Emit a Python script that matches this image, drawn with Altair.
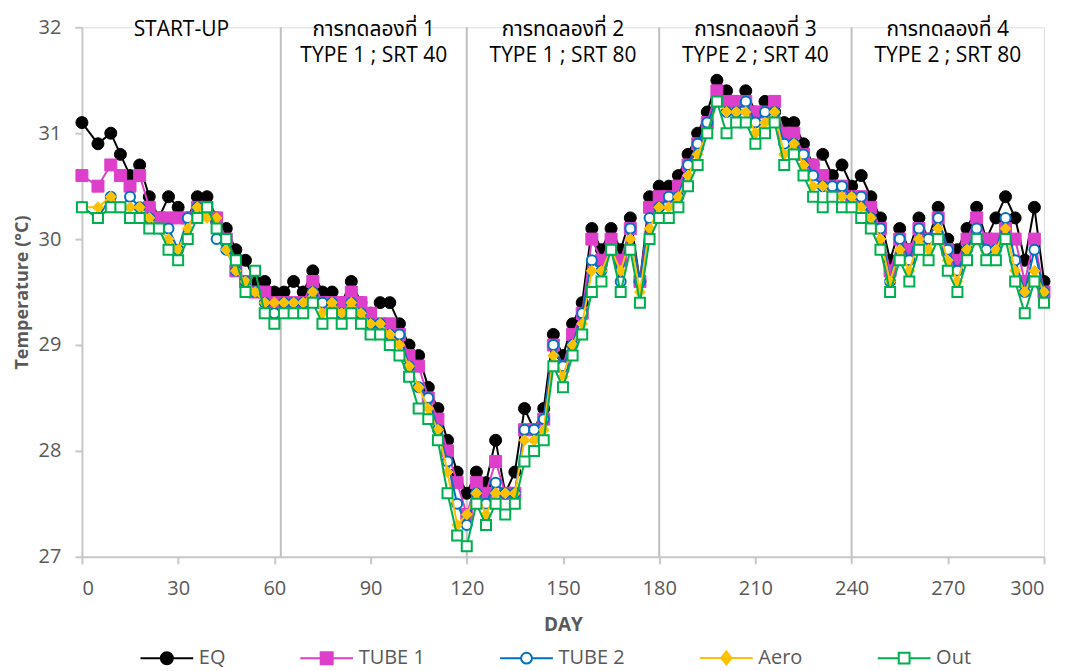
import altair as alt
import pandas as pd

days = [0, 5, 9, 12, 15, 18, 21, 24, 27, 30,
        33, 36, 39, 42, 45, 48, 51, 54, 57, 60,
        63, 66, 69, 72, 75, 78, 81, 84, 87, 90,
        93, 96, 99, 102, 105, 108, 111, 114, 117, 120,
        123, 126, 129, 132, 135, 138, 141, 144, 147, 150,
        153, 156, 159, 162, 165, 168, 171, 174, 177, 180,
        183, 186, 189, 192, 195, 198, 201, 204, 207, 210,
        213, 216, 219, 222, 225, 228, 231, 234, 237, 240,
        243, 246, 249, 252, 255, 258, 261, 264, 267, 270,
        273, 276, 279, 282, 285, 288, 291, 294, 297, 300]

eq = [31.1, 30.9, 31.0, 30.8, 30.6, 30.7, 30.4, 30.2, 30.4, 30.3,
      30.2, 30.4, 30.4, 30.2, 30.1, 29.9, 29.8, 29.6, 29.6, 29.5,
      29.5, 29.6, 29.5, 29.7, 29.5, 29.5, 29.4, 29.6, 29.4, 29.3,
      29.4, 29.4, 29.2, 29.0, 28.9, 28.6, 28.4, 28.1, 27.8, 27.6,
      27.8, 27.7, 28.1, 27.6, 27.8, 28.4, 28.2, 28.4, 29.1, 28.9,
      29.2, 29.4, 30.1, 29.9, 30.1, 29.9, 30.2, 29.6, 30.4, 30.5,
      30.5, 30.6, 30.8, 31.0, 31.2, 31.5, 31.4, 31.3, 31.4, 31.2,
      31.3, 31.2, 31.1, 31.1, 30.9, 30.7, 30.8, 30.6, 30.7, 30.5,
      30.6, 30.4, 30.2, 29.8, 30.1, 29.9, 30.2, 30.0, 30.3, 30.0,
      29.9, 30.1, 30.3, 30.0, 30.2, 30.4, 30.2, 29.8, 30.3, 29.6]

tube1 = [30.6, 30.5, 30.7, 30.6, 30.5, 30.6, 30.3, 30.2, 30.2, 30.2,
         30.2, 30.3, 30.3, 30.2, 30.0, 29.7, 29.6, 29.5, 29.5, 29.4,
         29.4, 29.4, 29.4, 29.6, 29.4, 29.4, 29.4, 29.5, 29.4, 29.3,
         29.2, 29.2, 29.1, 28.9, 28.8, 28.5, 28.3, 28.0, 27.7, 27.4,
         27.7, 27.6, 27.9, 27.6, 27.6, 28.2, 28.2, 28.3, 29.0, 28.8,
         29.1, 29.3, 30.0, 29.8, 30.0, 29.8, 30.1, 29.6, 30.3, 30.4,
         30.4, 30.5, 30.7, 30.9, 31.1, 31.4, 31.3, 31.3, 31.3, 31.2,
         31.2, 31.3, 31.0, 31.0, 30.8, 30.7, 30.6, 30.5, 30.5, 30.4,
         30.4, 30.3, 30.1, 29.7, 30.0, 29.9, 30.1, 30.0, 30.2, 29.9,
         29.8, 30.0, 30.2, 30.0, 30.0, 30.1, 30.0, 29.6, 30.0, 29.5]

tube2 = [30.3, 30.2, 30.4, 30.3, 30.4, 30.3, 30.2, 30.1, 30.1, 29.9,
         30.2, 30.3, 30.3, 30.0, 29.9, 29.7, 29.6, 29.5, 29.4, 29.3,
         29.4, 29.4, 29.4, 29.5, 29.4, 29.4, 29.3, 29.4, 29.3, 29.2,
         29.2, 29.1, 29.1, 28.8, 28.6, 28.5, 28.2, 27.9, 27.5, 27.3,
         27.6, 27.5, 27.7, 27.6, 27.6, 28.2, 28.2, 28.3, 29.0, 28.8,
         29.0, 29.3, 29.8, 29.7, 29.9, 29.6, 30.1, 29.6, 30.2, 30.3,
         30.4, 30.4, 30.7, 30.9, 31.1, 31.3, 31.2, 31.2, 31.3, 31.1,
         31.2, 31.2, 30.9, 30.9, 30.8, 30.6, 30.5, 30.5, 30.5, 30.4,
         30.4, 30.2, 30.1, 29.6, 30.0, 29.8, 30.1, 30.0, 30.2, 29.9,
         29.7, 29.9, 30.1, 29.9, 29.9, 30.2, 29.8, 29.5, 29.9, 29.5]

aero = [30.3, 30.3, 30.4, 30.3, 30.3, 30.3, 30.2, 30.1, 30.0, 29.9,
        30.1, 30.3, 30.2, 30.2, 29.9, 29.7, 29.6, 29.5, 29.4, 29.4,
        29.4, 29.4, 29.4, 29.5, 29.3, 29.4, 29.3, 29.4, 29.3, 29.2,
        29.2, 29.1, 29.0, 28.8, 28.6, 28.4, 28.2, 27.8, 27.3, 27.4,
        27.6, 27.4, 27.6, 27.6, 27.6, 28.1, 28.1, 28.2, 28.9, 28.7,
        29.0, 29.2, 29.7, 29.7, 29.9, 29.7, 30.0, 29.5, 30.1, 30.3,
        30.3, 30.4, 30.6, 30.8, 31.0, 31.3, 31.2, 31.2, 31.2, 31.0,
        31.1, 31.2, 30.8, 30.9, 30.7, 30.5, 30.5, 30.4, 30.4, 30.4,
        30.3, 30.2, 30.0, 29.6, 29.9, 29.7, 30.0, 29.9, 30.1, 29.8,
        29.6, 29.9, 30.0, 29.8, 29.9, 30.1, 29.7, 29.5, 29.7, 29.5]

out = [30.3, 30.2, 30.3, 30.3, 30.2, 30.2, 30.1, 30.1, 29.9, 29.8,
       30.0, 30.2, 30.3, 30.1, 30.0, 29.8, 29.5, 29.7, 29.3, 29.2,
       29.3, 29.3, 29.3, 29.4, 29.2, 29.3, 29.2, 29.3, 29.2, 29.1,
       29.1, 29.0, 28.9, 28.7, 28.4, 28.3, 28.1, 27.6, 27.2, 27.1,
       27.5, 27.3, 27.5, 27.4, 27.5, 27.9, 28.0, 28.1, 28.8, 28.6,
       28.9, 29.1, 29.5, 29.6, 29.9, 29.5, 29.9, 29.4, 30.0, 30.2,
       30.2, 30.3, 30.5, 30.7, 31.0, 31.3, 31.0, 31.1, 31.1, 30.9,
       31.0, 31.1, 30.7, 30.8, 30.6, 30.4, 30.3, 30.4, 30.3, 30.3,
       30.2, 30.1, 29.9, 29.5, 29.8, 29.6, 29.9, 29.8, 30.0, 29.7,
       29.5, 29.8, 30.0, 29.8, 29.8, 30.0, 29.6, 29.3, 29.6, 29.4]

series_names = ["EQ", "TUBE 1", "TUBE 2", "Aero", "Out"]
series_values = [eq, tube1, tube2, aero, out]
line_colors = ["#000000", "#DD3FCA", "#0070C0", "#FFC000", "#00B050"]
marker_shapes = ["circle", "square", "circle", "diamond", "square"]
marker_fills = ["#000000", "#DD3FCA", "#FFFFFF", "#FFC000", "#FFFFFF"]
marker_sizes = [144, 144, 100, 120, 100]
legend_paths = [
    "M-4.4,0H4.4M-1,0A1,1,0,1,1,1,0A1,1,0,1,1,-1,0Z",
    "M-4.4,0H4.4M-1,-1H1V1H-1Z",
    "M-4.4,0H-0.9M0.9,0H4.4M-0.9,0A0.9,0.9,0,1,1,0.9,0A0.9,0.9,0,1,1,-0.9,0Z",
    "M-4.4,0H4.4M0,-1.1L0.85,0L0,1.1L-0.85,0Z",
    "M-4.4,0H-0.9M0.9,0H4.4M-0.9,-0.9H0.9V0.9H-0.9Z",
]

phase_days = [31, 91, 150, 210, 270]
phase_line1 = ["START-UP", "การทดลองที่ 1", "การทดลองที่ 2", "การทดลองที่ 3", "การทดลองที่ 4"]
phase_line2 = ["", "TYPE 1 ; SRT 40", "TYPE 1 ; SRT 80", "TYPE 2 ; SRT 40", "TYPE 2 ; SRT 80"]
boundaries = [62, 120, 180, 240]
x_ticks = [0, 30, 60, 90, 120, 150, 180, 210, 240, 270, 300]
y_ticks = [27, 28, 29, 30, 31, 32]

FONT = "'Open Sans', Tahoma, 'Noto Sans Thai', 'DejaVu Sans', sans-serif"
AXIS_GRAY = "#C8C8C8"
TEXT_GRAY = "#595959"

rows = []
for name, vals in zip(series_names, series_values):
    for d, v in zip(days, vals):
        rows.append({"day": d, "temp": v, "series": name})
df = pd.DataFrame(rows)

x_scale = alt.Scale(domain=[0, 300], nice=False, zero=False)
y_scale = alt.Scale(domain=[27, 32], nice=False, zero=False)

x_axis = alt.Axis(values=x_ticks, title="DAY", grid=False,
                  labelFont=FONT, labelFontSize=20, labelColor=TEXT_GRAY,
                  titleFont=FONT, titleFontSize=19, titleFontWeight="bold", titleColor=TEXT_GRAY,
                  domainColor=AXIS_GRAY, domainWidth=2, tickColor=AXIS_GRAY, tickWidth=2,
                  tickSize=7, labelPadding=15, titlePadding=17)
y_axis = alt.Axis(values=y_ticks, title="Temperature (°C)", grid=False, format="d",
                  labelFont=FONT, labelFontSize=20, labelColor=TEXT_GRAY,
                  titleFont=FONT, titleFontSize=18, titleFontWeight="bold", titleColor=TEXT_GRAY,
                  domainColor=AXIS_GRAY, domainWidth=2, tickColor=AXIS_GRAY, tickWidth=2,
                  tickSize=7, labelPadding=14, titlePadding=7)

base = alt.Chart(df)

rules = alt.Chart(pd.DataFrame({"b": boundaries})).mark_rule(
    color="#C0C0C0", strokeWidth=2
).encode(x=alt.X("b:Q", scale=x_scale, axis=x_axis))

legend_def = alt.Legend(title=None, orient="none", legendX=75, legendY=621,
                        direction="horizontal", symbolSize=144, symbolStrokeWidth=2,
                        symbolOpacity=1, labelFont=FONT, labelFontSize=20,
                        labelColor=TEXT_GRAY, labelOffset=22, columnPadding=70,
                        padding=0)

legend_layer = base.mark_point(opacity=0, filled=False).encode(
    x=alt.X("day:Q", scale=x_scale, axis=x_axis),
    y=alt.Y("temp:Q", scale=y_scale, axis=y_axis),
    color=alt.Color("series:N", scale=alt.Scale(domain=series_names, range=line_colors), legend=legend_def),
    fill=alt.Fill("series:N", scale=alt.Scale(domain=series_names, range=marker_fills), legend=legend_def),
    shape=alt.Shape("series:N", scale=alt.Scale(domain=series_names, range=legend_paths), legend=legend_def),
)

layers = [rules, legend_layer]
for name, col, shp, fil, sz in zip(series_names, line_colors, marker_shapes, marker_fills, marker_sizes):
    sub = base.transform_filter(alt.datum.series == name)
    line = sub.mark_line(color=col, strokeWidth=2).encode(
        x=alt.X("day:Q", scale=x_scale, axis=x_axis),
        y=alt.Y("temp:Q", scale=y_scale, axis=y_axis),
    )
    pts = sub.mark_point(shape=shp, size=sz, filled=True, fill=fil, stroke=col,
                         strokeWidth=2 if fil == "#FFFFFF" else 1, opacity=1).encode(
        x=alt.X("day:Q", scale=x_scale, axis=x_axis),
        y=alt.Y("temp:Q", scale=y_scale, axis=y_axis),
    )
    layers += [line, pts]

phase_df = pd.DataFrame({"d": phase_days, "l1": phase_line1, "l2": phase_line2})
txt1 = alt.Chart(phase_df).mark_text(font=FONT, fontSize=21, color="#000000",
                                     baseline="middle", align="center").encode(
    x=alt.X("d:Q", scale=x_scale, axis=x_axis), y=alt.value(3), text="l1:N")
txt2 = alt.Chart(phase_df).mark_text(font=FONT, fontSize=21, color="#000000",
                                     baseline="middle", align="center").encode(
    x=alt.X("d:Q", scale=x_scale, axis=x_axis), y=alt.value(29), text="l2:N")
layers += [txt1, txt2]

chart = alt.layer(*layers).properties(
    width=963, height=530,
    autosize=alt.AutoSizeParams(type="none"),
    padding={"left": 74, "top": 19, "right": 15, "bottom": 114},
).configure_view(stroke=None).configure(background="white")

chart.save("out.html", embed_options={"renderer": "svg", "actions": False})
